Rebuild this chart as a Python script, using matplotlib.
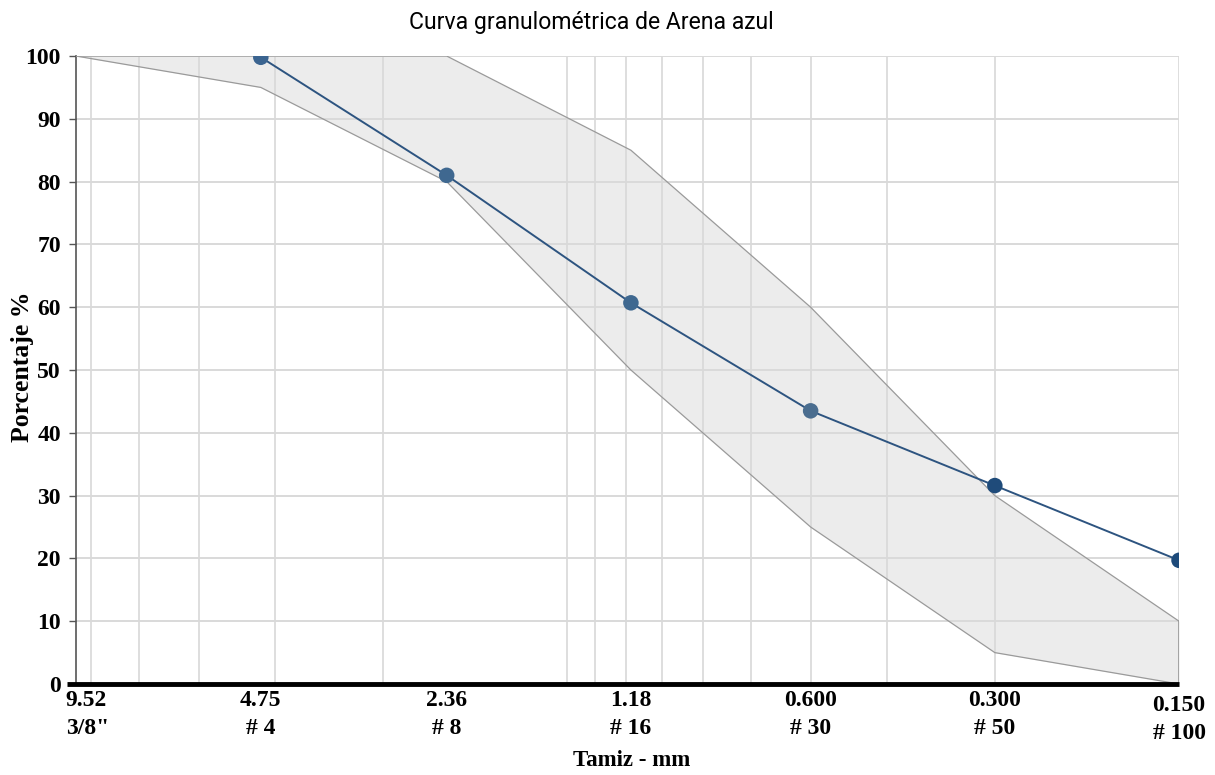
import numpy as np
import matplotlib.pyplot as plt
from matplotlib.ticker import FixedLocator, NullFormatter

# sieve openings (mm) and their names
sieve_mm = [9.52, 4.75, 2.36, 1.18, 0.600, 0.300, 0.150]
sieve_lbl = ["9.52\n3/8\"", "4.75\n# 4", "2.36\n# 8", "1.18\n# 16",
             "0.600\n# 30", "0.300\n# 50", "0.150\n# 100"]

# ASTM C33 limits for fine aggregate (% passing)
lim_sup = [100, 100, 100, 85, 60, 30, 10]
lim_inf = [100, 95, 80, 50, 25, 5, 0]

# sample curve (no value at 9.52)
muestra_mm = [4.75, 2.36, 1.18, 0.600, 0.300, 0.150]
muestra_pct = [99.8, 81.0, 60.7, 43.5, 31.6, 19.7]

# vertical grid positions of the original sheet
grid_x = [9, 7.5, 6, 4.5, 3, 1.5, 1.35, 1.2, 1.05, 0.9, 0.75, 0.6, 0.45, 0.3, 0.15]

serif = "Liberation Serif"

fig = plt.figure(figsize=(12.15, 7.75), dpi=100)
ax = fig.add_axes([0.0626, 0.1174, 0.9078, 0.8103])

ax.set_xscale("log")
ax.set_xlim(9.52, 0.150)
ax.set_ylim(0, 100)

# grid
ax.xaxis.set_minor_locator(FixedLocator(grid_x))
ax.xaxis.set_minor_formatter(NullFormatter())
ax.set_xticks(sieve_mm)
ax.set_xticklabels([""] * len(sieve_mm))
ax.grid(False)
for g in grid_x:
    ax.axvline(g, color="#d4d4d4", lw=1.1, zorder=1)
for y in range(10, 101, 10):
    ax.axhline(y, color="#d9d9d9", lw=1.4, zorder=1)

# envelope
ax.fill_between(sieve_mm, lim_inf, lim_sup, color="#dadada", alpha=0.5,
                lw=0, zorder=2)
ax.plot(sieve_mm, lim_sup, color="#9a9a9a", lw=0.9, zorder=3)
ax.plot(sieve_mm, lim_inf, color="#9a9a9a", lw=0.9, zorder=3)
ax.plot([sieve_mm[-1]] * 2, [lim_inf[-1], lim_sup[-1]], color="#9a9a9a",
        lw=1.2, zorder=3)

# sample curve
ax.plot(muestra_mm, muestra_pct, color="#2d5480", lw=1.4, zorder=4)
mcol = ["#3b6490", "#3f6890", "#3f6890", "#4a6d8f", "#1f4b7a", "#1d4a7a"]
ax.scatter(muestra_mm, muestra_pct, s=125, c=mcol, zorder=5, lw=0)

# axes styling
for s in ["top", "right"]:
    ax.spines[s].set_visible(False)
ax.spines["left"].set_color("#555555")
ax.spines["left"].set_linewidth(1.2)
ax.spines["bottom"].set_visible(False)
ax.plot([-0.008, 1.0], [0, 0], transform=ax.transAxes, color="black",
        lw=3.5, clip_on=False, zorder=6, solid_capstyle="butt")

ax.set_yticks(range(0, 101, 10))
ax.tick_params(axis="y", length=5, width=1, color="#555555", pad=6)
ax.tick_params(axis="x", which="both", length=0)
for lab in ax.get_yticklabels():
    lab.set_fontfamily(serif)
    lab.set_fontweight("bold")
    lab.set_fontsize(17)

# sieve labels drawn as text so the first and last can be nudged
xform = ax.get_xaxis_transform()
for i, (mm, txt) in enumerate(zip(sieve_mm, sieve_lbl)):
    ha, xpos, ypos = "center", mm, -0.01
    if i == 0:
        ha, xpos = "left", 9.9
    if i == len(sieve_mm) - 1:
        ypos = -0.018
    ax.text(xpos, ypos, txt, transform=xform, ha=ha, va="top",
            multialignment=ha, family=serif, weight="bold", fontsize=17,
            linespacing=1.4, clip_on=False)

fig.text(0.5197, 0.019, "Tamiz - mm", family=serif, weight="bold",
         fontsize=16.5, ha="center", va="center")
ax.set_ylabel("Porcentaje %", fontfamily=serif, fontweight="bold",
              fontsize=18.5)
ax.yaxis.set_label_coords(-0.038, 0.505)

fig.text(0.487, 0.971, "Curva granulométrica de Arena azul",
         family="Roboto", fontsize=16.6, ha="center", va="center")

fig.savefig("out.png", dpi=100)
